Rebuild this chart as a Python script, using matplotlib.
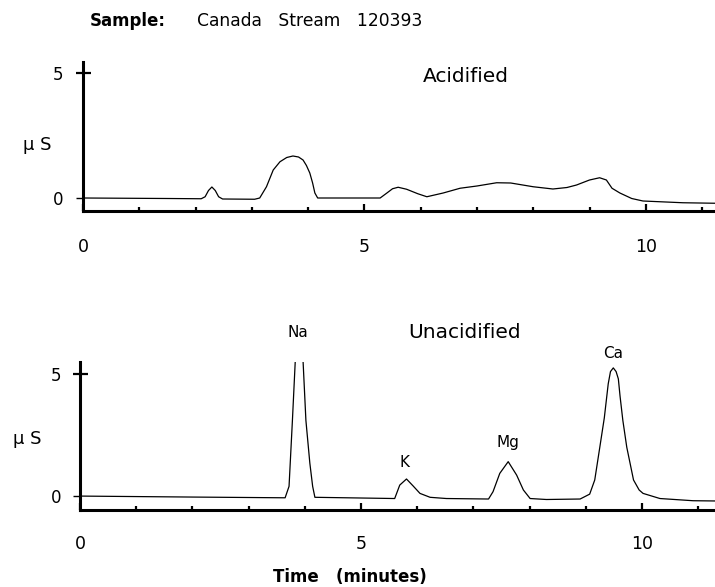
import matplotlib.pyplot as plt

plt.rcParams['font.family'] = ['DejaVu Sans']

# Acidified trace: time (min) and conductivity (uS)
acid_time = [0.0, 1.5, 2.1, 2.17, 2.23, 2.29, 2.35, 2.41, 2.48, 3.05, 3.14,
             3.26, 3.38, 3.5, 3.62, 3.73, 3.83, 3.91, 3.97, 4.03, 4.08, 4.12,
             4.17, 5.28, 5.4, 5.5, 5.6, 5.75, 5.95, 6.11, 6.4, 6.7, 7.0, 7.35,
             7.6, 8.0, 8.35, 8.6, 8.77, 9.0, 9.18, 9.3, 9.4, 9.54, 9.75, 9.95,
             10.66, 11.23]
acid_uS = [0.0, -0.02, -0.03, 0.05, 0.3, 0.44, 0.3, 0.05, -0.04, -0.05, 0.0,
           0.45, 1.12, 1.45, 1.62, 1.68, 1.64, 1.52, 1.3, 1.0, 0.6, 0.2,
           0.0, 0.0, 0.2, 0.37, 0.43, 0.35, 0.17, 0.05, 0.2, 0.39, 0.48, 0.61,
           0.6, 0.45, 0.36, 0.42, 0.52, 0.72, 0.81, 0.72, 0.39, 0.2, -0.02, -0.12,
           -0.19, -0.21]

# Unacidified trace
unacid_time = [0.0, 2.0, 3.65, 3.72, 3.78, 3.83, 3.86, 3.90, 3.94, 3.97, 4.02,
               4.09, 4.14, 4.18, 5.6, 5.69, 5.81, 5.93, 6.05, 6.23, 6.52, 7.27,
               7.35, 7.47, 7.62, 7.77, 7.89, 8.01, 8.3, 8.9, 9.07, 9.16, 9.25,
               9.33, 9.40, 9.44, 9.49, 9.54, 9.58, 9.61, 9.66, 9.73, 9.85, 9.95,
               10.02, 10.32, 10.91, 11.3]
unacid_uS = [0.0, -0.04, -0.07, 0.4, 3.1, 5.5, 9.0, 14.0, 9.0, 5.5, 3.1,
             1.35, 0.4, -0.05, -0.1, 0.45, 0.7, 0.41, 0.11, -0.05, -0.1, -0.12,
             0.18, 0.93, 1.41, 0.86, 0.25, -0.1, -0.14, -0.12, 0.08, 0.66, 2.0,
             3.2, 4.6, 5.1, 5.25, 5.1, 4.8, 4.1, 3.1, 2.0, 0.66, 0.25,
             0.11, -0.1, -0.19, -0.2]

ion_names = ['Na', 'K', 'Mg', 'Ca']
ion_label_pos = [(3.88, 6.68), (5.78, 1.39), (7.62, 2.21), (9.48, 5.86)]

W, H = 715, 587
fig = plt.figure(figsize=(W / 100, H / 100), dpi=100)
ax1 = fig.add_axes([83 / W, 1 - 211 / H, (W - 83) / W, (211 - 61.75) / H])
ax2 = fig.add_axes([80 / W, 1 - 510 / H, (W - 80) / W, (510 - 361.8) / H])


def style_axis(ax, xmax, ymin, ymax, xpad, ypad, ylab_xy):
    ax.set_xlim(0, xmax)
    ax.set_ylim(ymin, ymax)
    for s in ['top', 'right']:
        ax.spines[s].set_visible(False)
    for s in ['left', 'bottom']:
        ax.spines[s].set_linewidth(2.2)
    ax.set_xticks([0, 5, 10], ['0', '5', '10'])
    ax.set_xticks(range(1, 12), minor=True)
    ax.tick_params(axis='x', which='major', direction='in', length=5,
                   width=1.6, labelsize=12.5, pad=xpad)
    ax.tick_params(axis='x', which='minor', direction='in', length=3,
                   width=1.6)
    ax.set_yticks([5], ['5'])
    ax.set_yticks([0], ['0'], minor=True)
    ax.tick_params(axis='y', which='major', direction='inout', length=10.8,
                   width=1.6, labelsize=12, pad=ypad)
    ax.tick_params(axis='y', which='minor', direction='out', length=5,
                   width=1.0, labelsize=12, pad=ypad + 0.4)
    ax.set_ylabel('μ S', rotation=0, fontsize=13, ha='center', va='center')
    ax.yaxis.set_label_coords(*ylab_xy)


ax1.plot(acid_time, acid_uS, color='black', lw=0.9)
style_axis(ax1, 11.23, -0.52, 5.45, 19.5, 9, (-0.073, 0.442))
ax1.text(6.8, 4.84, 'Acidified', fontsize=14.5, ha='center', va='center')

ax2.plot(unacid_time, unacid_uS, color='black', lw=0.9)
style_axis(ax2, 11.3, -0.57, 5.5, 18, 8, (-0.083, 0.48))
ax2.text(6.85, 6.68, 'Unacidified', fontsize=14.5, ha='center', va='center')
for name, (tx, ty) in zip(ion_names, ion_label_pos):
    ax2.text(tx, ty, name, fontsize=11, ha='center', va='center')

fig.text(90 / W, 1 - 21 / H, 'Sample:', fontsize=12, fontweight='bold',
         ha='left', va='center')
fig.text(197 / W, 1 - 21 / H, 'Canada   Stream   120393', fontsize=12.3,
         ha='left', va='center')
fig.text(273 / W, 1 - 577 / H, 'Time   (minutes)', fontsize=12,
         fontweight='bold', ha='left', va='center')

fig.savefig('out.png', dpi=100)
